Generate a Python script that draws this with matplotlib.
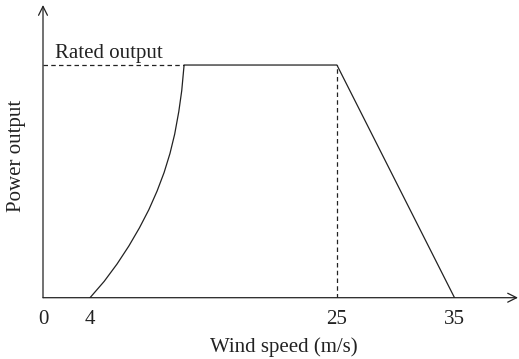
import matplotlib
matplotlib.use("Agg")
import matplotlib.pyplot as plt

plt.rcParams['font.family'] = ['Liberation Serif', 'DejaVu Serif']

# power curve (rated output = 1)
speed = [4.0, 5.2, 6.3, 7.3, 8.2, 9.0, 9.7, 10.3, 10.8, 11.2, 11.55, 11.8, 12.0,
         25.0, 35.0]
power = [0.0, 0.07, 0.145, 0.222, 0.300, 0.378, 0.458, 0.538, 0.620, 0.703,
         0.800, 0.890, 1.0, 1.0, 0.0]
rated = 1.0
cut_out = 25.0
tick_pos = [0, 4, 25, 35]
tick_lab = ['0', '4', '25', '35']

fig = plt.figure(figsize=(5.19, 3.59), dpi=100)
ax = fig.add_axes([43/519, (359-297.7)/359, (518-43)/519, (297.7-5)/359])
ax.set_xlim(0, 40.4)
ax.set_ylim(0, 1.258)

ax.plot(speed, power, color='#222222', lw=0.9)
ax.plot([0, speed[power.index(rated)]], [rated, rated], color='#222222', lw=0.9,
        linestyle=(0, (3.6, 2.6)))
ax.plot([cut_out, cut_out], [0, rated], color='#222222', lw=0.9,
        linestyle=(0, (3.6, 2.6)))

ax.text(1.0, 1.03, 'Rated output', fontsize=15, ha='left', va='baseline', color='#222222')

for s in ax.spines.values():
    s.set_visible(False)
ax.set_yticks([])
ax.set_xticks(tick_pos)
ax.set_xticklabels(tick_lab, fontsize=15, color='#222222')
ax.tick_params(axis='x', length=0, pad=9)

# axis arrows
arr = dict(arrowstyle='->', color='#222222', lw=0.9, mutation_scale=16,
           shrinkA=0, shrinkB=0)
ax.annotate('', xy=(1, 0), xytext=(0, 0), xycoords='axes fraction', arrowprops=arr)
ax.annotate('', xy=(0, 1), xytext=(0, 0), xycoords='axes fraction', arrowprops=arr)

fig.text(284/519, 1 - 347/359, 'Wind speed (m/s)', fontsize=15, ha='center', va='center',
         color='#222222')
fig.text(17/519, 1 - 156/359, 'Power output', fontsize=15, ha='center', va='center',
         rotation=90, color='#222222')

fig.savefig('out.png', dpi=100)
